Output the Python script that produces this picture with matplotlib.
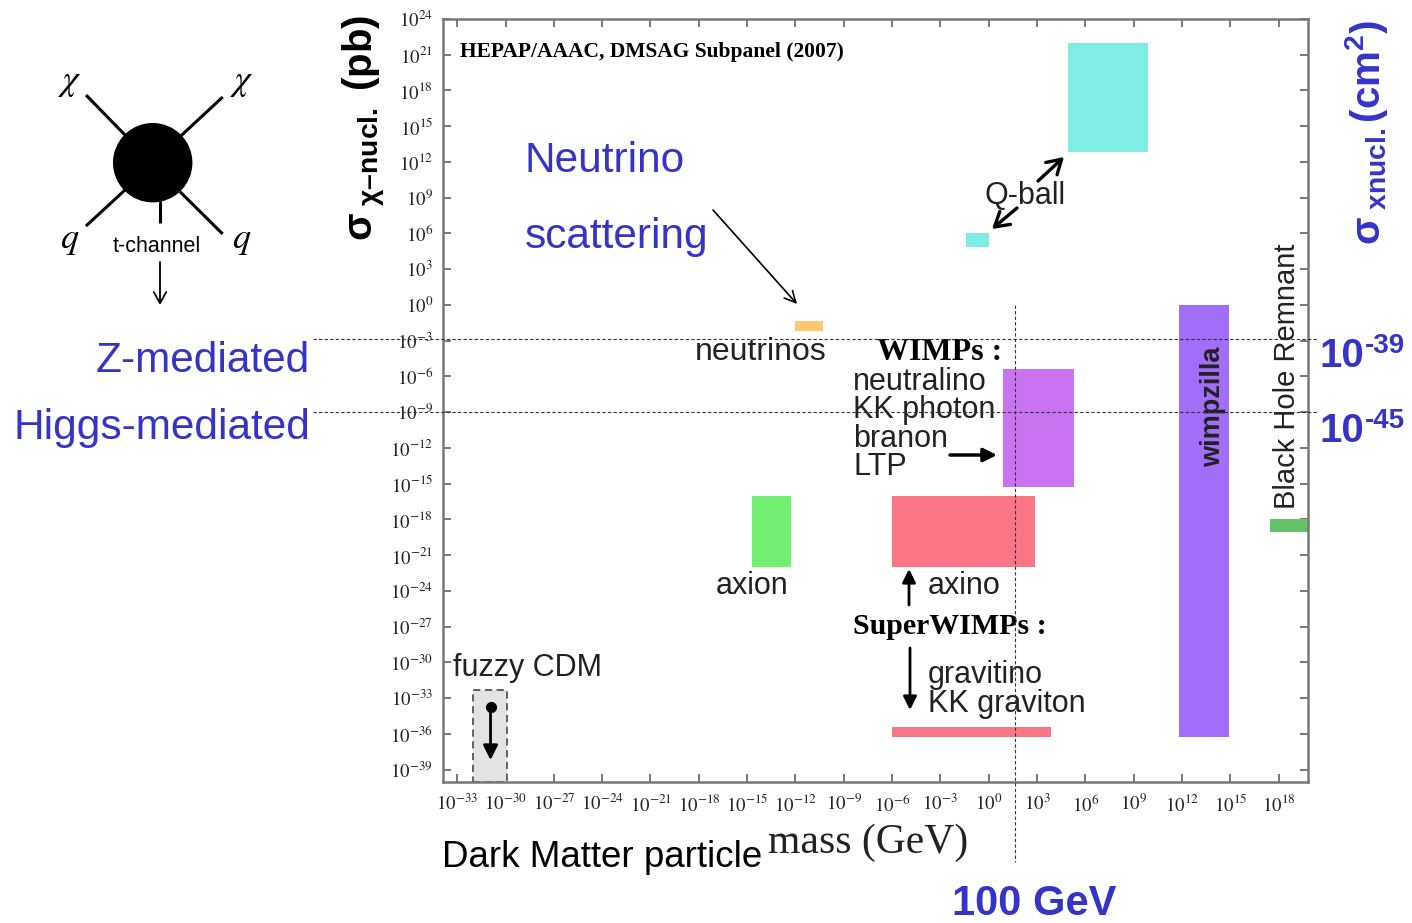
import numpy as np
import matplotlib.pyplot as plt
from matplotlib.patches import Rectangle, Circle
from matplotlib.ticker import FixedLocator, FuncFormatter, NullLocator
from matplotlib.transforms import blended_transform_factory

plt.rcParams['mathtext.fontset'] = 'stix'
plt.rcParams['mathtext.rm'] = 'Liberation Sans'
plt.rcParams['mathtext.bf'] = 'Liberation Sans:bold'
plt.rcParams['mathtext.it'] = 'Liberation Sans:italic'

# Candidatos (valores em log10): massa em GeV, secao de choque em pb
candidatos = ['Q-ball', 'Q-ball', 'neutrinos', 'WIMPs', 'axion', 'axino',
              'wimpzilla', 'Black Hole Remnant', 'gravitino']
massa_min = [4.9, -1.4, -12.0, 0.9, -14.7, -6.0, 11.8, 17.5, -6.0]
massa_max = [9.9, 0.0, -10.3, 5.3, -12.3, 2.9, 14.9, 19.9, 3.9]
sigma_min = [12.8, 4.85, -2.2, -15.3, -22.0, -22.0, -36.3, -19.05, -36.3]
sigma_max = [22.0, 6.0, -1.35, -5.35, -16.0, -16.0, 0.0, -18.0, -35.4]
cores = ['#7FEDE3', '#7FEDE3', '#FFC870', '#C973F0', '#73F073', '#FA7585',
         '#A06EF8', '#66C266', '#FA7585']

# fuzzy CDM (limite superior)
fuzzy_massa = [-32.0, -29.9]
fuzzy_sigma = [-40.0, -32.3]
fuzzy_ponto = [-30.93, -33.74]
fuzzy_limite = -38.2

# linhas de referencia
nivel_z = -2.85       # 10^-39 cm2
nivel_higgs = -9.0    # 10^-45 cm2
massa_100gev = 1.65

x_exps = np.arange(-33, 19, 3)
y_exps = np.arange(-39, 25, 3)

AZUL = '#3434C8'
CINZA = '#222222'
SANS = 'Liberation Sans'
SERIF = 'Liberation Serif'

fig = plt.figure(figsize=(14.12, 9.23), dpi=100)
W, H = 1412, 923
ax = fig.add_axes([442.7 / W, (H - 781.5) / H, 864.8 / W, 762.5 / H])
ax.set_xscale('log')
ax.set_yscale('log')
ax.set_xlim(10**-33.9, 10**19.8)
ax.set_ylim(10**-40.0, 10**24.0)

for x0, x1, y0, y1, c in zip(massa_min, massa_max, sigma_min, sigma_max, cores):
    ax.add_patch(Rectangle((10**x0, 10**y0), 10**x1 - 10**x0, 10**y1 - 10**y0,
                           facecolor=c, edgecolor='none', zorder=2))

ax.add_patch(Rectangle((10**fuzzy_massa[0], 10**fuzzy_sigma[0]),
                       10**fuzzy_massa[1] - 10**fuzzy_massa[0],
                       10**fuzzy_sigma[1] - 10**fuzzy_sigma[0],
                       facecolor='#E3E3E3', edgecolor='#555555', lw=1.3,
                       ls=(0, (4, 2.5)), zorder=2))
ax.annotate('', xy=(10**fuzzy_ponto[0], 10**fuzzy_limite),
            xytext=(10**fuzzy_ponto[0], 10**fuzzy_ponto[1]),
            arrowprops=dict(arrowstyle='-|>', lw=2, color='black',
                            mutation_scale=22, shrinkA=0, shrinkB=0), zorder=4)
ax.plot(10**fuzzy_ponto[0], 10**fuzzy_ponto[1], 'o', color='black', ms=7, zorder=5)

ax.xaxis.set_major_locator(FixedLocator(10.0**x_exps))
ax.yaxis.set_major_locator(FixedLocator(10.0**y_exps))
ax.xaxis.set_minor_locator(NullLocator())
ax.yaxis.set_minor_locator(NullLocator())
fmt = FuncFormatter(lambda v, p: r'$10^{%d}$' % int(round(np.log10(v))))
ax.xaxis.set_major_formatter(fmt)
ax.yaxis.set_major_formatter(fmt)
ax.tick_params(which='major', direction='in', length=6, width=1.1, color='#555555',
               top=True, right=True, labelsize=13.5, labelcolor=CINZA)
ax.tick_params(axis='x', pad=9)
ax.tick_params(axis='y', pad=7)
for s in ax.spines.values():
    s.set_color('#777777')
    s.set_linewidth(1.8)

# camada de anotacoes em pixels
ov = fig.add_axes([0, 0, 1, 1])
ov.set_xlim(0, W)
ov.set_ylim(H, 0)
ov.axis('off')

# linhas tracejadas
tr_h = blended_transform_factory(ov.transData, ax.transData)
for nivel in [nivel_z, nivel_higgs]:
    ov.plot([313, 1317], [10**nivel, 10**nivel], transform=tr_h, color='#333333',
            lw=0.8, ls=(0, (3, 2)), clip_on=False, zorder=6)
tr_v = blended_transform_factory(ax.transData, ov.transData)
ov.plot([10**massa_100gev, 10**massa_100gev], [305, 862], transform=tr_v,
        color='#333333', lw=0.8, ls=(0, (3, 2)), clip_on=False, zorder=6)

# diagrama de Feynman
for (x0, y0, x1, y1) in [(86, 95, 125, 135), (222.7, 97, 180, 136.7),
                         (86, 226, 125, 190), (222.7, 234, 180, 191.7),
                         (160, 200, 160, 222.7)]:
    ov.plot([x0, x1], [y0, y1], color='black', lw=2.2, solid_capstyle='butt')
ov.add_patch(Circle((152.7, 162.7), 39, color='black'))
ov.text(70, 82, r'$\chi$', fontsize=26, ha='center', va='center')
ov.text(241.7, 82, r'$\chi$', fontsize=26, ha='center', va='center')
ov.text(70, 240, r'$q$', fontsize=26, ha='center', va='center')
ov.text(241.7, 240, r'$q$', fontsize=26, ha='center', va='center')
ov.text(157, 246, 't-channel', fontsize=15.5, family=SANS, ha='center', va='center')
ov.annotate('', xy=(160, 305), xytext=(160, 262),
            arrowprops=dict(arrowstyle='->,head_length=0.8,head_width=0.45', lw=1.3,
                            color='black', shrinkA=0, shrinkB=0))

# textos azuis
ov.text(310, 372, 'Z-mediated', fontsize=30.5, family=SANS, color=AZUL, ha='right', va='baseline')
ov.text(310, 439, 'Higgs-mediated', fontsize=30.5, family=SANS, color=AZUL, ha='right', va='baseline')
ov.text(525, 171.5, 'Neutrino', fontsize=30.5, family=SANS, color=AZUL, va='baseline')
ov.text(525, 248, 'scattering', fontsize=30.5, family=SANS, color=AZUL, va='baseline')
for base, sup, yb in [('10', '-39', 367), ('10', '-45', 442)]:
    ov.text(1320, yb, base, fontsize=29, family=SANS, weight='bold', color=AZUL, va='baseline')
    ov.text(1365, yb - 14, sup, fontsize=20, family=SANS, weight='bold', color=AZUL, va='baseline')
ov.text(1034, 915, '100 GeV', fontsize=30, family=SANS, weight='bold', color=AZUL,
        ha='center', va='baseline')
ov.text(1366, 132, r'$\mathbf{σ}_{\ \mathbf{xnucl.}}\mathbf{(cm^{2})}$', fontsize=29,
        color=AZUL, rotation=90, ha='center', va='center', math_fontfamily='custom')
ov.text(364, 128, r'$\mathbf{σ}_{\ \mathbf{χ–nucl.}}\ \mathbf{(pb)}$', fontsize=29,
        color='black', rotation=90, ha='center', va='center', math_fontfamily='custom')
ov.text(441.7, 866.7, 'Dark Matter particle', fontsize=26.5, family=SANS, va='baseline')
ov.text(768, 853, 'mass (GeV)', fontsize=30, family=SERIF, color=CINZA, va='baseline')

# rotulos dentro do grafico
ov.text(460, 52, 'HEPAP/AAAC, DMSAG Subpanel (2007)', fontsize=15.5, family=SERIF,
        weight='bold', va='center')
ov.text(1025, 196, 'Q-ball', fontsize=22, family=SANS, color=CINZA, ha='center', va='center')
ov.text(827, 352, 'neutrinos', fontsize=23, family=SANS, color=CINZA, ha='right', va='center')
ov.text(877, 352, 'WIMPs :', fontsize=23, family=SERIF, weight='bold', va='center')
for txt, yy in [('neutralino', 382), ('KK photon', 410), ('branon', 439), ('LTP', 467)]:
    ov.text(853, yy, txt, fontsize=22, family=SANS, color=CINZA, va='center')
ov.text(752, 586, 'axion', fontsize=22, family=SANS, color=CINZA, ha='center', va='center')
ov.text(928, 586, 'axino', fontsize=22, family=SANS, color=CINZA, va='center')
ov.text(853, 627, 'SuperWIMPs :', fontsize=21.5, family=SERIF, weight='bold', va='center')
ov.text(928, 675, 'gravitino', fontsize=22, family=SANS, color=CINZA, va='center')
ov.text(928, 704, 'KK graviton', fontsize=22, family=SANS, color=CINZA, va='center')
ov.text(453, 668, 'fuzzy CDM', fontsize=22, family=SANS, color=CINZA, va='center')
ov.text(1213, 407, 'wimpzilla', fontsize=19.5, family=SANS, weight='bold', color=CINZA,
        rotation=90, ha='center', va='center')
ov.text(1287, 376, 'Black Hole Remnant', fontsize=21, family=SANS, color=CINZA,
        rotation=90, ha='center', va='center')

# setas
setas = [((713, 210), (797, 304), '->', 1.2),
         ((1038, 181), (1064, 157), '->,head_length=0.5,head_width=0.3', 2.4),
         ((1017, 208), (992, 229), '->,head_length=0.5,head_width=0.3', 2.4),
         ((950, 455), (997, 455), '-|>', 2.5),
         ((909, 605), (909, 569), '-|>', 2.0),
         ((910, 648), (910, 710), '-|>', 2.0)]
for ini, fim, estilo, lw in setas:
    ov.annotate('', xy=fim, xytext=ini,
                arrowprops=dict(arrowstyle=estilo, lw=lw, color='black',
                                mutation_scale=20, shrinkA=0, shrinkB=0))

fig.savefig('out.png', dpi=100)
